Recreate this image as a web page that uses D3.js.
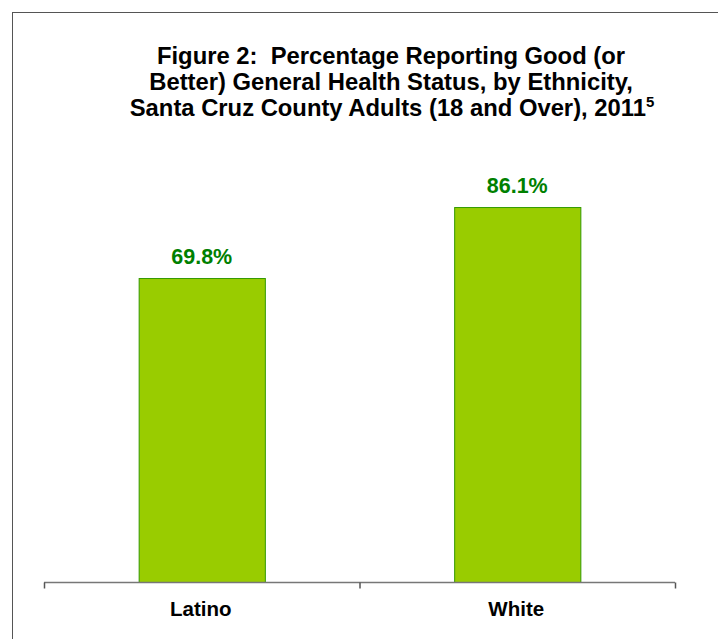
<!DOCTYPE html>
<html><head><meta charset="utf-8">
<script src="https://cdn.jsdelivr.net/npm/d3@7"></script>
<style>body{margin:0;background:#fff}svg{display:block}text{white-space:pre}</style>
</head><body>
<script>
const categories = ["Latino", "White"];
const values = [69.8, 86.1];
const titleLines = ["Figure 2:  Percentage Reporting Good (or", "Better) General Health Status, by Ethnicity,", "Santa Cruz County Adults (18 and Over), 2011"];

const W = 718, H = 639;
const svg = d3.select("body").append("svg").attr("width", W).attr("height", H);
svg.append("rect").attr("x", 12.5).attr("y", 12.5).attr("width", W + 20).attr("height", H + 20)
  .attr("fill", "none").attr("stroke", "#555").attr("stroke-width", 1);

const font = "Liberation Sans, Arial, sans-serif";
const tg = svg.append("g").attr("font-family", font).attr("font-weight", "bold").attr("font-size", 23.8).attr("fill", "#000").attr("text-anchor", "middle");
titleLines.forEach((t, i) => {
  const txt = tg.append("text").attr("x", i === 2 ? 392 : 391).attr("y", 64 + i * 26).text(t);
  if (i === 2) txt.append("tspan").attr("font-size", 15).attr("dy", -9).text("5");
});

const x = d3.scaleBand().domain(categories).range([44, 675]).paddingInner(0.6).paddingOuter(0.3);
const y = d3.scaleLinear().domain([0, 100]).range([582, 146.5]);

svg.selectAll("rect.bar").data(values).enter().append("rect").attr("class", "bar")
  .attr("x", (d, i) => x(categories[i]) + 0.5).attr("y", d => y(d) + 0.5)
  .attr("width", x.bandwidth()).attr("height", d => 582 - y(d))
  .attr("fill", "#99CC00").attr("stroke", "#339900").attr("stroke-width", 1);

svg.selectAll("text.val").data(values).enter().append("text").attr("class", "val")
  .attr("x", (d, i) => x(categories[i]) + x.bandwidth() / 2).attr("y", d => y(d) - 14)
  .attr("text-anchor", "middle").attr("font-family", font).attr("font-weight", "bold")
  .attr("font-size", 21.5).attr("fill", "#008000").text(d => d.toFixed(1) + "%");

// axis
const xa = d3.scaleBand().domain(categories).range([44, 675]);
const axis = svg.append("g").attr("transform", "translate(0,582.5)");
axis.append("line").attr("x1", 44).attr("x2", 675).attr("stroke", "#777").attr("stroke-width", 1.5);
const tickXs = [44, xa("White"), 675];
axis.selectAll("line.t").data(tickXs).enter().append("line").attr("class", "t")
  .attr("x1", d => d + 0.5).attr("x2", d => d + 0.5).attr("y1", 0).attr("y2", 6).attr("stroke", "#555").attr("stroke-width", 1.5);
axis.selectAll("text").data(categories).enter().append("text")
  .attr("x", d => xa(d) + xa.bandwidth() / 2 - 1).attr("y", 33).attr("text-anchor", "middle")
  .attr("font-family", font).attr("font-weight", "bold").attr("font-size", 20.5).attr("fill", "#000").text(d => d);
</script>
</body></html>
